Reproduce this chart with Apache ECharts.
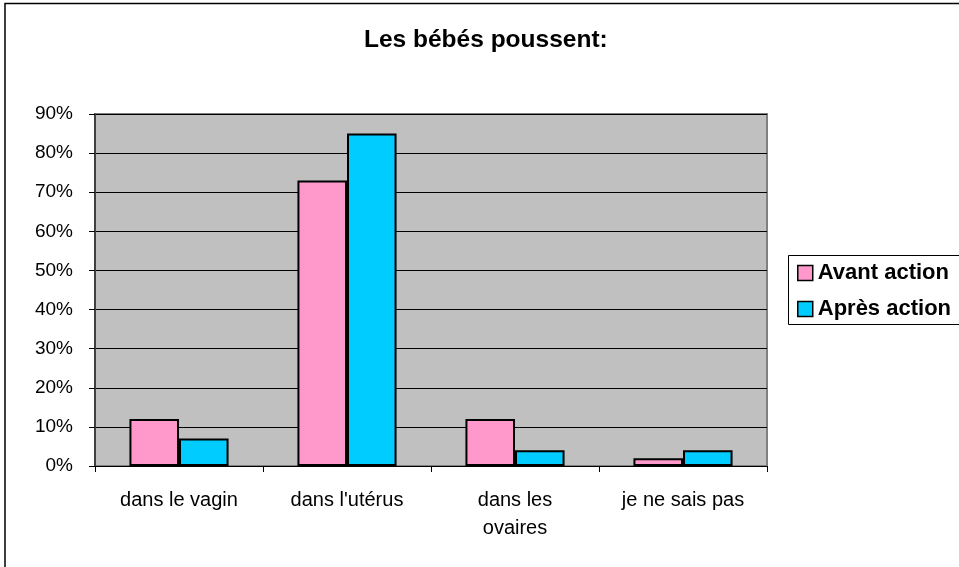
<!DOCTYPE html>
<html>
<head>
<meta charset="utf-8">
<script src="https://cdn.jsdelivr.net/npm/echarts@6/dist/echarts.min.js"></script>
<style>
  html, body { margin: 0; padding: 0; background: #fff; }
  #chart { width: 959px; height: 567px; }
</style>
</head>
<body>
<div id="chart"></div>
<script>
const categories = ['dans le vagin', "dans l'utérus", 'dans les\novaires', 'je ne sais pas'];
const avantAction = [12, 73, 12, 2];
const apresAction = [7, 85, 4, 4];
const yTicks = [0, 10, 20, 30, 40, 50, 60, 70, 80, 90];

const chart = echarts.init(document.getElementById('chart'));
const font = 'Liberation Sans, Arial, sans-serif';

const option = {
  animation: false,
  backgroundColor: '#fff',
  textStyle: { fontFamily: font },
  title: {
    text: 'Les bébés poussent:',
    left: 364,
    top: 28,
    padding: 0,
    textStyle: { fontSize: 24.5, fontWeight: 'bold', color: '#000', fontFamily: font }
  },
  graphic: [
    {
      // cadre du graphique
      type: 'rect',
      shape: { x: 5, y: 3.5, width: 1000, height: 1000 },
      style: { fill: 'none', stroke: '#000', lineWidth: 1.5 },
      silent: true
    },
    {
      // cadre de la légende
      type: 'rect',
      shape: { x: 788.5, y: 255.5, width: 200, height: 69 },
      style: { fill: '#fff', stroke: '#000', lineWidth: 1 },
      z: 0
    }
  ],
  legend: {
    orient: 'vertical',
    left: 797,
    top: 262,
    padding: 0,
    itemWidth: 15,
    itemHeight: 15,
    itemGap: 14,
    icon: 'rect',
    itemStyle: { borderColor: '#000', borderWidth: 1.5 },
    textStyle: { fontSize: 22, lineHeight: 22, fontWeight: 'bold', color: '#000', fontFamily: font },
    data: ['Avant action', 'Après action']
  },
  grid: {
    left: 95,
    top: 114,
    width: 672,
    height: 352,
    show: true,
    backgroundColor: '#C0C0C0',
    borderColor: '#808080',
    borderWidth: 2
  },
  xAxis: {
    type: 'category',
    data: categories,
    axisLine: { lineStyle: { color: '#000', width: 1 } },
    axisTick: { show: true, length: 6, lineStyle: { color: '#000' } },
    axisLabel: { color: '#000', fontSize: 20, margin: 20, lineHeight: 28, fontFamily: font }
  },
  yAxis: {
    type: 'value',
    min: 0,
    max: 90,
    interval: 10,
    axisLine: { show: true, lineStyle: { color: '#404040', width: 2 } },
    axisTick: { show: true, length: 6, inside: false, lineStyle: { color: '#000' } },
    axisLabel: {
      color: '#000',
      fontSize: 19,
      margin: 22,
      fontFamily: font,
      formatter: v => (yTicks.includes(v) ? v + '%' : '')
    },
    splitLine: { show: true, lineStyle: { color: '#000', width: 1 } }
  },
  series: [
    {
      name: 'Avant action',
      type: 'bar',
      data: avantAction,
      barGap: '0%',
      barCategoryGap: '41%',
      itemStyle: { color: '#FF99CC', borderColor: '#000', borderWidth: 2 }
    },
    {
      name: 'Après action',
      type: 'bar',
      data: apresAction,
      itemStyle: { color: '#00CCFF', borderColor: '#000', borderWidth: 2 }
    }
  ]
};

chart.setOption(option);
</script>
</body>
</html>
